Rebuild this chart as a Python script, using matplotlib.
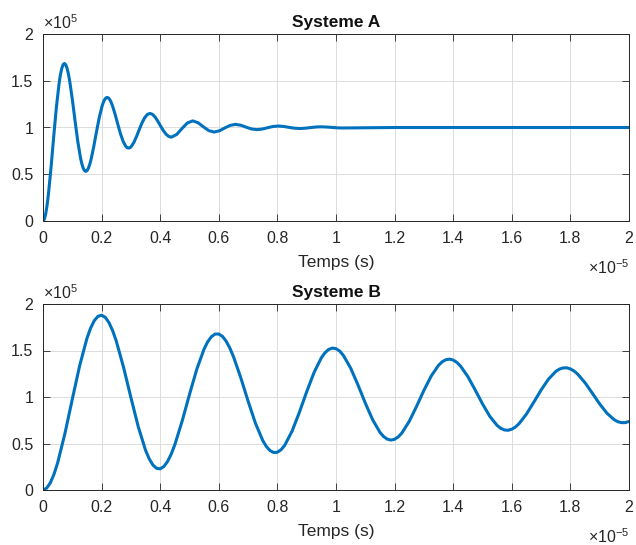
import matplotlib
matplotlib.use("Agg")
import matplotlib.pyplot as plt

plt.rcParams['font.family'] = ['Liberation Sans', 'DejaVu Sans']
plt.rcParams['mathtext.fontset'] = 'custom'
plt.rcParams['mathtext.rm'] = 'Liberation Sans'
plt.rcParams['mathtext.default'] = 'regular'

# Systeme A  (temps en 1e-5 s, sortie en 1e5)
t_a = [0, 0.0091, 0.0183, 0.0274, 0.0365, 0.0456, 0.0548, 0.0639, 0.0730, 0.0821,
       0.0913, 0.1004, 0.1095, 0.1186, 0.1278, 0.1369, 0.1460, 0.1551, 0.1643, 0.1734,
       0.1825, 0.1916, 0.2008, 0.2099, 0.2190, 0.2281, 0.2373, 0.2464, 0.2555, 0.2646,
       0.2738, 0.2829, 0.2920, 0.3011, 0.3103, 0.3194, 0.3285, 0.3376, 0.3468, 0.3559,
       0.3650, 0.3741, 0.3833, 0.3924, 0.4015, 0.4106, 0.4198, 0.4289, 0.4380,
       0.4563, 0.4745, 0.4928, 0.5110, 0.5293, 0.5475, 0.5658, 0.5840, 0.6023, 0.6205,
       0.6388, 0.6570, 0.6753, 0.6935, 0.7118, 0.7300, 0.7483, 0.7665, 0.7848, 0.8030,
       0.8213, 0.8395, 0.8578, 0.8760, 0.8943, 0.9125, 0.9308, 0.9490, 0.9673, 0.9855,
       1.0038, 1.0220, 1.2, 1.6, 2.0]
y_a = [0, 0.0748, 0.2793, 0.5714, 0.9003, 1.2143, 1.4684, 1.6305, 1.6851, 1.6339,
       1.4938, 1.2936, 1.0683, 0.8531, 0.6791, 0.5680, 0.5306, 0.5657, 0.6616, 0.7988,
       0.9532, 1.1006, 1.2199, 1.2959, 1.3216, 1.2975, 1.2318, 1.1378, 1.0321, 0.9311,
       0.8493, 0.7972, 0.7797, 0.7962, 0.8412, 0.9056, 0.9780, 1.0472, 1.1032, 1.1389,
       1.1509, 1.1397, 1.1088, 1.0647, 1.0150, 0.9676, 0.9293, 0.9048, 0.8966,
       0.9255, 0.9897, 1.0485, 1.0709, 1.0511, 1.0071, 0.9668, 0.9514, 0.9650, 0.9952,
       1.0228, 1.0333, 1.0240, 1.0033, 0.9844, 0.9772, 0.9835, 0.9977, 1.0107, 1.0156,
       1.0112, 1.0016, 0.9927, 0.9893, 0.9922, 0.9989, 1.0050, 1.0074, 1.0053, 1.0007,
       0.9965, 0.9949, 1.0, 1.0, 1.0]
# points supplementaires autour des extremums
t_a2 = [0.0046, 0.0137, 0.0593, 0.0684, 0.0776, 0.0867, 0.1323, 0.1414, 0.1506, 0.1597,
        0.2053, 0.2144, 0.2236, 0.2327, 0.2874, 0.2966]
y_a2 = [0.0191, 0.1631, 1.5624, 1.6716, 1.6720, 1.5734, 0.6147, 0.5399, 0.5396, 0.6071,
        1.2639, 1.3152, 1.3155, 1.2692, 0.7840, 0.7839]

# Systeme B
t_b = [0.025 * k for k in range(81)]
y_b = [0, 0.0769, 0.2926, 0.6097, 0.9765, 1.3351, 1.6309, 1.8209, 1.8791, 1.8009,
       1.6027, 1.3184, 0.9946, 0.6818, 0.4275, 0.2694, 0.2279, 0.3059, 0.4878, 0.7420,
       1.0278, 1.3001, 1.5178, 1.6493, 1.6773, 1.6007, 1.4345, 1.2072, 0.9555, 0.7185,
       0.5321, 0.4234, 0.4064, 0.4808, 0.6322, 0.8351, 1.0567, 1.2626, 1.4217, 1.5113,
       1.5197, 1.4482, 1.3106, 1.1297, 0.9347, 0.7560, 0.6203, 0.5471, 0.5455, 0.6136,
       0.7386, 0.8996, 1.0709, 1.2258, 1.3412, 1.4008, 1.3970, 1.3327, 1.2194, 1.0762,
       0.9259, 0.7918, 0.6939, 0.6459, 0.6536, 0.7141, 0.8164, 0.9436, 1.0753, 1.1913,
       1.2744, 1.3127, 1.3020, 1.2454, 1.1531, 1.0402, 0.9249, 0.8246, 0.7545, 0.7242,
       0.7370]
t_b2 = [0.0125, 0.0375, 0.1625, 0.1875, 0.2125, 0.2375, 0.3625, 0.3875, 0.4125, 0.4375,
        0.5625, 0.5875, 0.6125, 0.6375, 0.7625, 0.7875, 0.8125, 0.9625, 0.9875, 1.0125,
        1.1625, 1.1875, 1.2125, 1.3625, 1.3875, 1.4125, 1.5625, 1.5875, 1.6125,
        1.7625, 1.7875, 1.8125, 1.9625, 1.9875]
y_b2 = [0.0195, 0.1692, 1.7412, 1.8673, 1.8566, 1.7150, 0.3347, 0.2334, 0.2526, 0.3854,
        1.5959, 1.6769, 1.6516, 1.5276, 0.4668, 0.4029, 0.4325, 1.4765, 1.5260, 1.4936,
        0.5748, 0.5369, 0.5711, 1.3790, 1.4072, 1.3722, 0.6626, 0.6422, 0.6773,
        1.3000, 1.3139, 1.2794, 0.7336, 0.7247]

xticks = [0, 0.2, 0.4, 0.6, 0.8, 1, 1.2, 1.4, 1.6, 1.8, 2]
yticks = [0, 0.5, 1, 1.5, 2]

sys_a = sorted(zip(t_a + t_a2, y_a + y_a2))
sys_b = sorted(zip(t_b + t_b2, y_b + y_b2))

fig = plt.figure(figsize=(6.36, 5.45), dpi=100)
ax1 = fig.add_axes([43/636, 1 - 221/545, 586/636, 187/545])
ax2 = fig.add_axes([43/636, 1 - 490/545, 586/636, 186/545])

for ax, pts, title in [(ax1, sys_a, "Systeme A"), (ax2, sys_b, "Systeme B")]:
    ax.plot([p[0] for p in pts], [p[1] for p in pts], color="#0072BD", lw=2.2,
            solid_capstyle="round", solid_joinstyle="round")
    ax.set_xlim(0, 2)
    ax.set_ylim(0, 2)
    ax.set_xticks(xticks)
    ax.set_yticks(yticks)
    ax.set_xticklabels(["%g" % v for v in xticks])
    ax.set_yticklabels(["%g" % v for v in yticks])
    ax.tick_params(direction="in", length=5, width=0.6, colors="#262626",
                   labelsize=11.5, top=True, right=True, pad=7)
    ax.grid(True, color="#dcdcdc", lw=0.7)
    ax.set_axisbelow(True)
    for s in ax.spines.values():
        s.set_color("#262626")
        s.set_linewidth(0.7)
    ax.set_title(title, fontsize=12.5, fontweight="bold", color="#111111", pad=5)
    ax.set_xlabel("Temps (s)", fontsize=12.5, color="#262626", labelpad=7)
    ax.text(0.0, 1.012, r"$\times$10$^{5}$", transform=ax.transAxes, ha="left",
            va="bottom", fontsize=11.5, color="#262626")
    ax.text(1.0, -0.25, r"$\times$10$^{-5}$", transform=ax.transAxes, ha="right",
            va="center", fontsize=11.5, color="#262626")

fig.savefig("out.png", dpi=100)
